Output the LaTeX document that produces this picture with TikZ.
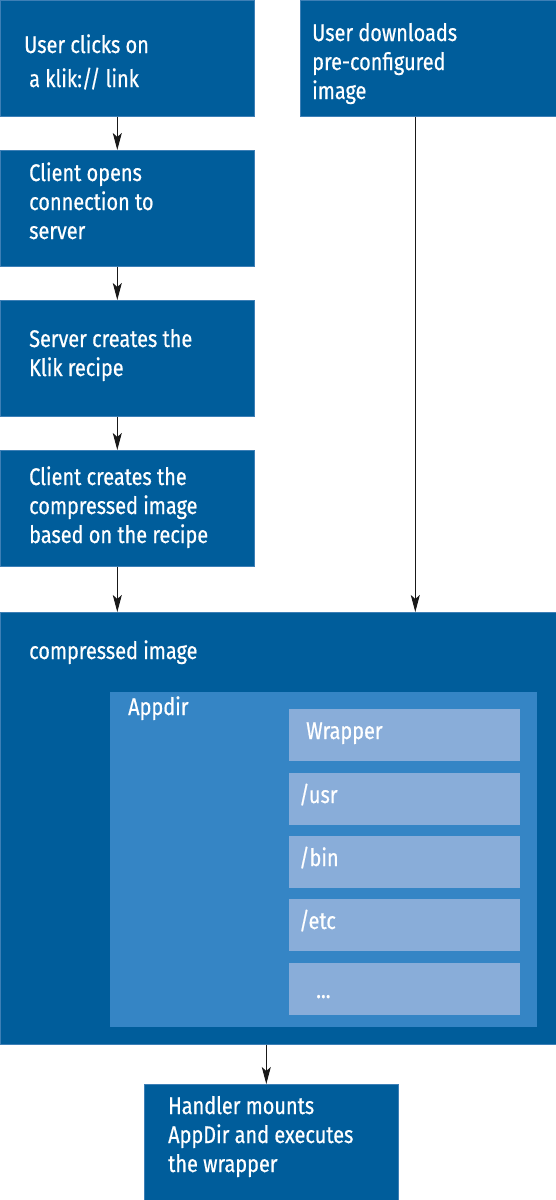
\documentclass[tikz,border=0pt]{standalone}
\usepackage{fontspec}
\setmainfont{Fira Sans}[FakeStretch=0.83, FakeBold=0.6]
\usetikzlibrary{arrows.meta}
\definecolor{dkblue}{HTML}{005D9B}
\definecolor{edgeblue}{HTML}{3D7FB6}
\definecolor{midblue}{HTML}{3585C5}
\definecolor{ltblue}{HTML}{89ADD9}
\tikzset{
  box/.style={fill=dkblue, draw=edgeblue, line width=0.6pt, anchor=north west, inner sep=0pt, rectangle},
  appbox/.style={fill=midblue, draw=none, anchor=north west, inner sep=0pt, rectangle},
  subbox/.style={fill=ltblue, draw=none, anchor=north west, inner sep=0pt, rectangle, minimum width=231pt, minimum height=52pt},
  txt/.style={text=white, anchor=base west, inner sep=0pt, align=left, font=\fontsize{24}{29}\selectfont},
  flow/.style={draw=black!90, line width=0.9pt, -{Stealth[length=17pt,width=9pt,inset=4pt]}}
}
\begin{document}
\begin{tikzpicture}[x=1pt,y=-1pt]
\useasboundingbox (0,0) rectangle (556,1200);
% left column
\node[box, minimum width=254pt, minimum height=116pt] (b1) at (0,0) {};
\node[box, minimum width=254pt, minimum height=116pt] (b2) at (0,150) {};
\node[box, minimum width=254pt, minimum height=116pt] (b3) at (0,300) {};
\node[box, minimum width=254pt, minimum height=116pt] (b4) at (0,450) {};
\node[box, minimum width=256pt, minimum height=116pt] (rb) at (300,0) {};
% compressed image
\node[box, minimum width=556pt, minimum height=432pt] (ci) at (0,612) {};
\node[appbox, minimum width=427pt, minimum height=335pt] (ad) at (110,692) {};
\node[subbox] (s1) at (289,709) {};
\node[subbox] (s2) at (289,773) {};
\node[subbox] (s3) at (289,836) {};
\node[subbox] (s4) at (289,899) {};
\node[subbox] (s5) at (289,963) {};
% bottom
\node[box, minimum width=254pt, minimum height=116pt] (hb) at (144,1084) {};
% texts (base anchor = baseline of the last line)
\node[txt] (t1a) at (24,53) {User clicks on};
\node[txt] (t1b) at (29,87) {a klik:// link};
\node[txt] (t2) at (29,239) {Client opens\\connection to\\server};
\node[txt] (t3) at (29,376) {Server creates the\\Klik recipe};
\node[txt] (t4) at (29,543) {Client creates the\\compressed image\\based on the recipe};
\node[txt] (tr) at (312,99) {User downloads\\pre-configured\\image};
\node[txt] (tci) at (29,659) {compressed image};
\node[txt] (tad) at (128,715) {Appdir};
\node[txt] (ts1) at (306,739) {Wrapper};
\node[txt] (ts2) at (299,803) {/usr};
\node[txt] (ts3) at (299,866) {/bin};
\node[txt] (ts4) at (299,929) {/etc};
\node[txt] (ts5) at (316,998) {...};
\node[txt] (th) at (168,1172) {Handler mounts\\AppDir and executes\\the wrapper};
% arrows
\draw[flow] ([xshift=-10pt]b1.south) -- ([xshift=-10pt]b2.north);
\draw[flow] ([xshift=-10pt]b2.south) -- ([xshift=-10pt]b3.north);
\draw[flow] ([xshift=-10pt]b3.south) -- ([xshift=-10pt]b4.north);
\draw[flow] ([xshift=-10pt]b4.south) -- ([xshift=-10pt]b4.south |- ci.north);
\draw[flow] ([xshift=-13pt]rb.south) -- ([xshift=-13pt]rb.south |- ci.north);
\draw[flow] ([xshift=-12pt]ci.south) -- ([xshift=-12pt]ci.south |- hb.north);
\end{tikzpicture}
\end{document}
